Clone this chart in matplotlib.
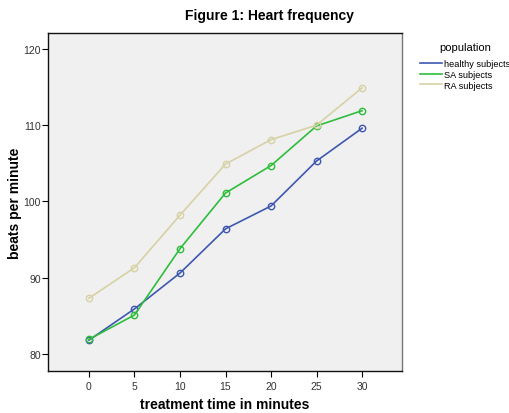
import matplotlib
matplotlib.use("Agg")
import matplotlib.pyplot as plt
from matplotlib.lines import Line2D

plt.rcParams['font.family'] = ['Liberation Sans', 'DejaVu Sans']

times = [0, 5, 10, 15, 20, 25, 30]
healthy = [81.8, 85.9, 90.6, 96.4, 99.4, 105.3, 109.6]
sa = [81.9, 85.1, 93.8, 101.1, 104.7, 109.9, 111.9]
ra = [87.3, 91.3, 98.2, 104.9, 108.1, 110.0, 114.9]
series_names = ["healthy subjects", "SA subjects", "RA subjects"]
colors = ["#3e58b0", "#2ebd3c", "#d6d2a6"]

fig = plt.figure(figsize=(5.09, 4.14), dpi=100)
ax = fig.add_axes([0.0943, 0.1014, 0.6957, 0.8166])
ax.set_facecolor("#f0f0f0")

for vals, name, c in zip([healthy, sa, ra], series_names, colors):
    ax.plot(times, vals, color=c, lw=1.2, marker='o', ms=4.6, mfc='none',
            mec=c, mew=1.0, label=name)

ax.set_xlim(-4.5, 34.4)
ax.set_ylim(77.75, 122.1)
ax.set_xticks(times)
ax.set_yticks([80, 90, 100, 110, 120])
ax.tick_params(direction='out', length=4, width=0.8, labelsize=7.5, labelcolor="#333333")
ax.tick_params(axis='y', pad=1.0)
for s in ax.spines.values():
    s.set_linewidth(1.0)
    s.set_color("#111111")
ax.spines['right'].set_color("#777777")

ax.set_xlabel("treatment time in minutes", fontsize=10, fontweight='bold', labelpad=4)
ax.set_ylabel("beats per minute", fontsize=10, fontweight='bold')
ax.yaxis.set_label_coords(-0.073, 0.5)
fig.text(0.53, 0.962, "Figure 1: Heart frequency", ha='center', va='center',
         fontsize=10, fontweight='bold')

handles = [Line2D([0], [0], color=c, lw=1.2) for c in colors]
leg = fig.legend(handles, series_names, loc='upper left', bbox_to_anchor=(0.826, 0.896),
                 frameon=False, fontsize=6.6, title="population", title_fontsize=8,
                 handlelength=2.3, handletextpad=0.3, labelspacing=0.2,
                 borderpad=0, borderaxespad=0)
leg._legend_box.align = "center"
leg._legend_box.sep = 5

fig.savefig("out.png", dpi=100)
